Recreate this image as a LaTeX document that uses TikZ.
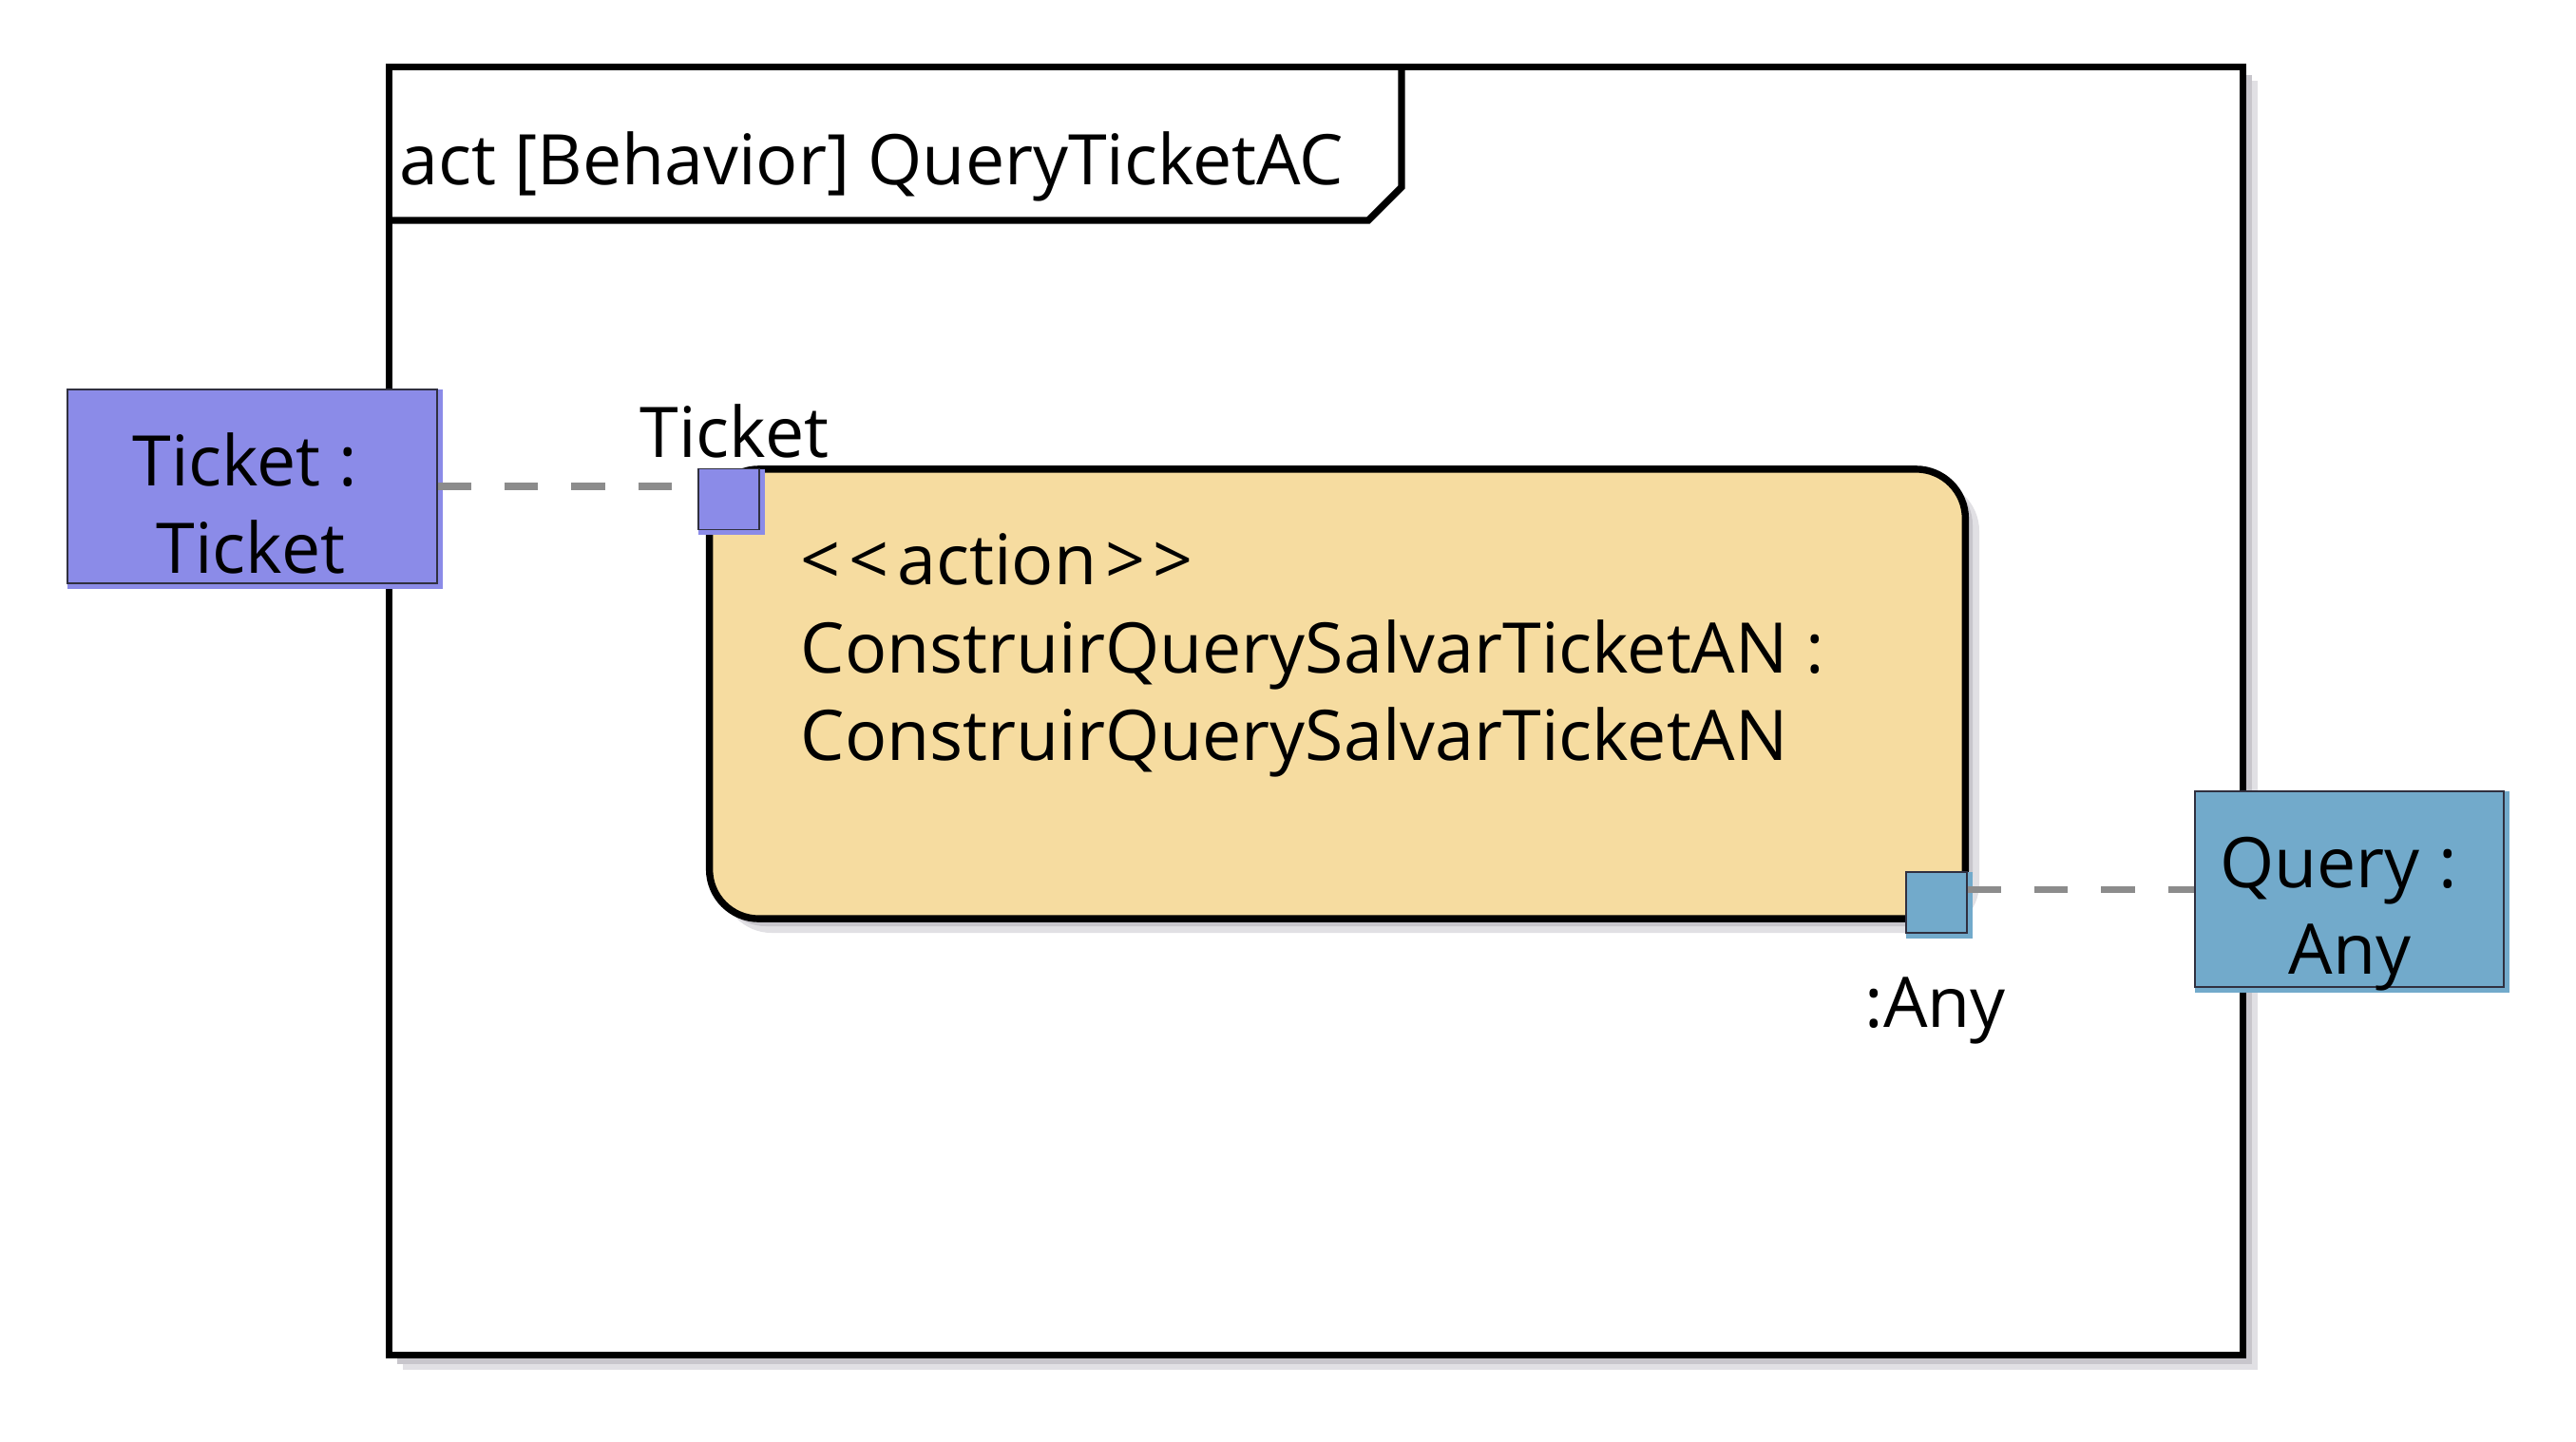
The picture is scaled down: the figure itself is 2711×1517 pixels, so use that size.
\documentclass[tikz,border=0pt]{standalone}
\usepackage{fontspec}
\setmainfont{Open Sans}
\definecolor{ticketfill}{RGB}{139,139,232}
\definecolor{queryfill}{RGB}{114,170,203}
\definecolor{actfill}{RGB}{246,220,160}
\definecolor{dashgray}{RGB}{140,140,140}
\definecolor{shadowA}{RGB}{200,198,204}
\definecolor{shadowB}{RGB}{225,224,228}
\definecolor{thinborder}{RGB}{48,48,64}
\tikzset{
  lbl/.style={inner sep=0pt, font=\fontsize{20.9}{26}\selectfont},
  framebox/.style={draw=black, line width=2.1pt, fill=white, inner sep=0pt},
  actbox/.style={draw=black, line width=2.1pt, fill=actfill, rounded corners=0.52cm, inner sep=0pt,
    minimum width=13.21cm, minimum height=4.73cm},
  objbox/.style={draw=thinborder, line width=0.4pt, inner sep=0pt},
  pinbox/.style={draw=thinborder, line width=0.4pt, inner sep=0pt, minimum size=0.64cm},
  flow/.style={draw=dashgray, line width=2pt, dash pattern=on 10pt off 10pt}
}
\begin{document}
\begin{tikzpicture}[x=0.01cm,y=-0.01cm]
\useasboundingbox (0,0) rectangle (2711,1517);
% frame shadow
\fill[shadowB] (424,85) rectangle (2376,1442);
\fill[shadowA] (418,79) rectangle (2370,1436);
\node[framebox, minimum width=19.5cm, minimum height=13.55cm] (frame) at (1385,748.5) {};
% header tab
\draw[line width=2.1pt, line join=miter] (410,232) -- (1440,232) -- (1475,197) -- (1475,71);
\node[lbl, anchor=base west] (title) at (420,194) {act [Behavior] QueryTicketAC};
% action shadow
\fill[shadowB, rounded corners=0.52cm] (760,507) rectangle (2083,982);
\fill[shadowA, rounded corners=0.52cm] (754,501) rectangle (2076,975);
\node[actbox] (act) at (1407.5,730.5) {};
\node[lbl, anchor=base west] (act1) at (842,615) {<\kern2.5pt<\kern2.5pt action\kern2.5pt>\kern2.5pt>};
\node[lbl, anchor=base west] (act2) at (842,708) {ConstruirQuerySalvarTicketAN :};
\node[lbl, anchor=base west] (act3) at (842,800) {ConstruirQuerySalvarTicketAN};
% Ticket object
\fill[ticketfill] (71,410) rectangle (466,620);
\node[objbox, fill=ticketfill, minimum width=3.89cm, minimum height=2.04cm] (tbox) at (265.5,512) {};
\node[lbl, anchor=base] (tl1) at (258,511) {Ticket :};
\node[lbl, anchor=base] (tl2) at (264,603) {Ticket};
% Ticket pin
\fill[ticketfill] (735,494) rectangle (805,563);
\node[pinbox, fill=ticketfill] (tpin) at (767,525.5) {};
\node[lbl, anchor=base west] (tpinlbl) at (673,481) {Ticket};
% Any pin
\fill[queryfill] (2006,918) rectangle (2076,988);
\node[pinbox, fill=queryfill] (apin) at (2038,950) {};
\node[lbl, anchor=base west] (apinlbl) at (1962,1081) {:Any};
% Query object
\fill[queryfill] (2310,833) rectangle (2641,1045);
\node[objbox, fill=queryfill, minimum width=3.25cm, minimum height=2.06cm] (qbox) at (2472.5,936) {};
\node[lbl, anchor=base] (ql1) at (2461,934) {Query :};
\node[lbl, anchor=base] (ql2) at (2473,1025) {Any};
% object flows
\draw[flow] (tbox.east) -- (tpin.west |- tbox.east);
\draw[flow] (apin.east |- qbox.west) -- (qbox.west);
\end{tikzpicture}
\end{document}
